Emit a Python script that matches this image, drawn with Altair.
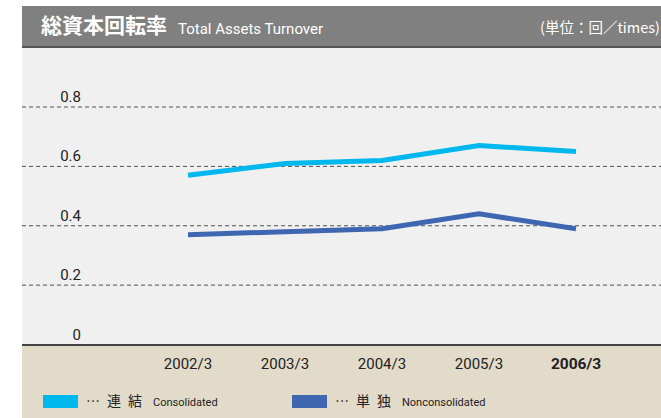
import altair as alt
import pandas as pd

# Fiscal years and turnover ratios (times)
years = ["2002/3", "2003/3", "2004/3", "2005/3", "2006/3"]
consolidated = [0.57, 0.61, 0.62, 0.67, 0.65]
nonconsolidated = [0.37, 0.38, 0.39, 0.44, 0.39]
series_names = ["Consolidated", "Nonconsolidated"]
series_colors = ["#00b8ee", "#3f67b1"]
y_ticks = [0, 0.2, 0.4, 0.6, 0.8]
y_tick_labels = ["0", "0.2", "0.4", "0.6", "0.8"]

W, H = 661, 418
CJK = "Noto Sans CJK JP"
LATIN = "Roboto, sans-serif"
SP = "\u2002"

rows = []
for name, vals in zip(series_names, [consolidated, nonconsolidated]):
    for yr, v in zip(years, vals):
        rows.append({"series": name, "year": yr, "value": v})
df = pd.DataFrame(rows)

one = alt.Data(values=[{"k": 1}])

x_enc = alt.X("year:O", sort=years,
              scale=alt.Scale(type="point", range=[188, 576], padding=0), axis=None)
y_scale = alt.Scale(domain=[0, 0.8], range=[344.5, 107])
y_enc = alt.Y("value:Q", scale=y_scale, axis=None)
color_enc = alt.Color("series:N", scale=alt.Scale(domain=series_names, range=series_colors), legend=None)


def box(x, x2, y, y2, color):
    return alt.Chart(one).mark_rect(color=color).encode(
        x=alt.value(x), x2=alt.value(x2), y=alt.value(y), y2=alt.value(y2))


def label(text, x, y, size, color="#222", font=LATIN, weight="normal", align="left"):
    return alt.Chart(one).mark_text(
        text=text, font=font, fontSize=size, fontWeight=weight, color=color,
        align=align, baseline="middle").encode(x=alt.value(x), y=alt.value(y))


# Panel backgrounds
plot_bg = box(22, W, 47, 345, "#f0f0f0")
header = box(22, W, 6, 47, "#808080")
header_line = alt.Chart(one).mark_rule(color="#555555", strokeWidth=2).encode(
    x=alt.value(22), x2=alt.value(W), y=alt.value(47))
footer = box(22, W, 346, H, "#e2dbc9")
baseline = alt.Chart(one).mark_rule(color="#444444", strokeWidth=2).encode(
    x=alt.value(22), x2=alt.value(W), y=alt.value(345))

# Header texts
title_jp = label("総資本回転率", 41, 27, 21, color="white", font=CJK, weight="bold")
title_en = label("Total Assets Turnover", 178, 29, 15, color="white")
unit = label("(単位：回／times)", W - 1, 29, 14.5, color="white", font=CJK, align="right")

# Dashed gridlines and y labels
tick_df = pd.DataFrame({"value": y_ticks, "label": y_tick_labels})
grid = alt.Chart(tick_df).transform_filter("datum.value > 0").mark_rule(
    color="#505050", strokeWidth=1, strokeDash=[4, 3]).encode(
    y=y_enc, x=alt.value(22), x2=alt.value(W))
y_labels = alt.Chart(tick_df).mark_text(
    font=LATIN, fontSize=15, color="#222", align="right", baseline="middle", dy=-10).encode(
    y=y_enc, x=alt.value(81), text="label:N")

# Lines
lines = alt.Chart(df).mark_line(strokeWidth=5, strokeCap="butt", strokeJoin="miter").encode(
    x=x_enc, y=y_enc, color=color_enc, detail="series:N")

# Category labels (latest year in bold)
year_df = pd.DataFrame({"year": years, "latest": [y == years[-1] for y in years]})
x_labels = alt.Chart(year_df).transform_filter("!datum.latest").mark_text(
    font=LATIN, fontSize=15, color="#222", baseline="middle").encode(
    x=x_enc, y=alt.value(364), text="year:N")
x_label_bold = alt.Chart(year_df).transform_filter("datum.latest").mark_text(
    font=LATIN, fontSize=15.5, fontWeight="bold", color="#222", baseline="middle").encode(
    x=x_enc, y=alt.value(364), text="year:N")

# Legend
leg1 = box(43, 78, 395, 408, series_colors[0])
leg1_jp = label(f"…{SP}連{SP}結", 86, 402, 14, font=CJK)
leg1_en = label("Consolidated", 153, 403, 11)
leg2 = box(292, 327, 395, 408, series_colors[1])
leg2_jp = label(f"…{SP}単{SP}独", 335, 402, 14, font=CJK)
leg2_en = label("Nonconsolidated", 402, 403, 11)

chart = alt.layer(
    plot_bg, header, header_line, footer, baseline,
    title_jp, title_en, unit,
    grid, y_labels, lines, x_labels, x_label_bold,
    leg1, leg1_jp, leg1_en, leg2, leg2_jp, leg2_en,
).properties(
    width=W, height=H, padding=0, autosize=alt.AutoSizeParams(type="none"),
    background="white",
).configure_view(stroke=None)

chart.save("out.html", embed_options={"renderer": "svg", "actions": False})
